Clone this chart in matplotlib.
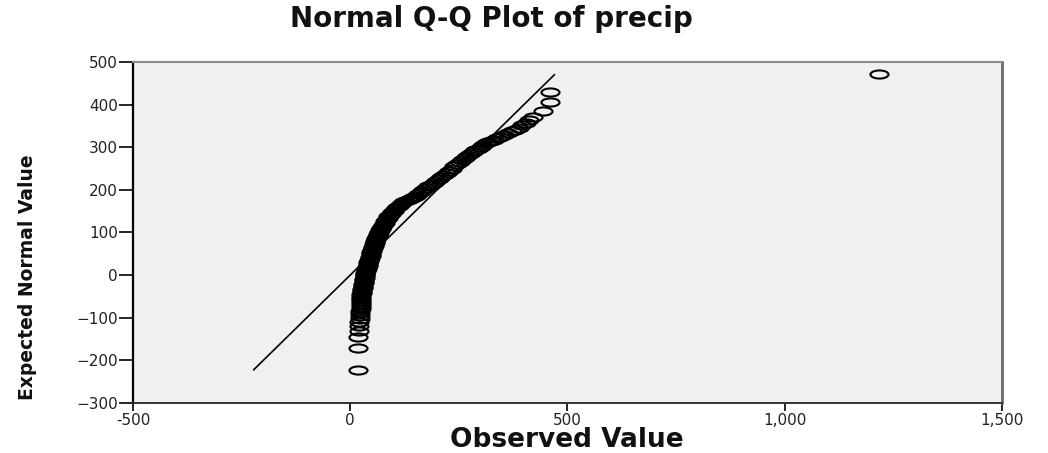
import matplotlib
matplotlib.use('Agg')
import matplotlib.pyplot as plt
from matplotlib import font_manager
from matplotlib.path import Path
from matplotlib.transforms import Affine2D

# Observed precip vs expected normal value
observed = [18, 18, 19, 20, 21, 21, 22, 22, 23, 23, 24, 24, 24, 25, 25, 25, 26, 26, 26, 27,
            27, 28, 28, 29, 29, 30, 30, 31, 31, 32, 32, 33, 33, 34, 35, 35, 36, 37, 38, 39,
            40, 40, 41, 42, 43, 44, 45, 46, 47, 48, 48, 49, 50, 51, 52, 53, 54, 55, 56, 57,
            58, 59, 60, 62, 63, 64, 66, 67, 69, 70, 72, 74, 75, 77, 79, 80, 82, 84, 86, 88,
            91, 94, 97, 100, 104, 108, 112, 117, 122, 127, 132, 137, 142, 147, 152, 157, 162, 168, 174, 180,
            186, 192, 198, 204, 210, 216, 222, 228, 234, 240, 246, 252, 258, 264, 270, 276, 282, 288, 294, 300,
            306, 312, 318, 324, 330, 338, 346, 355, 364, 372, 380, 388, 396, 404, 412, 420, 443, 459, 459, 1217]
expected = [-222, -170, -146, -131, -120, -111, -103, -96, -90, -84, -79, -74, -69, -65, -61, -57, -53, -49, -45, -42,
            -39, -36, -33, -30, -27, -24, -21, -18, -15, -12, -9, -6, -3, 0, 3, 6, 9, 12, 15, 18,
            21, 24, 27, 30, 33, 36, 39, 42, 45, 48, 51, 54, 57, 60, 63, 66, 69, 72, 75, 78,
            81, 84, 87, 90, 93, 96, 99, 102, 105, 108, 111, 114, 117, 120, 123, 126, 129, 132, 135, 138,
            141, 144, 147, 150, 155, 159, 163, 167, 171, 174, 177, 179, 181, 183, 186, 190, 194, 199, 204, 208,
            212, 216, 220, 225, 230, 235, 240, 245, 250, 255, 260, 265, 270, 275, 280, 285, 289, 293, 297, 301,
            305, 309, 312, 315, 318, 321, 325, 329, 333, 337, 341, 346, 351, 357, 363, 370, 386, 407, 430, 471]

# reference line y = x
ref_line = [-222, 470]

x_ticks = [-500, 0, 500, 1000, 1500]
x_tick_labels = ['-500', '0', '500', '1,000', '1,500']
y_ticks = [-300, -200, -100, 0, 100, 200, 300, 400, 500]
y_tick_labels = ['\u2212300', '\u2212200', '\u2212100', '0', '100', '200', '300', '400', '500']


def narrow_font():
    # the y label is set in a condensed bold face; use one if it is installed
    for fam in ['Liberation Sans Narrow', 'DejaVu Sans Condensed']:
        try:
            font_manager.findfont(fam, fallback_to_default=False)
            return fam, 17
        except ValueError:
            pass
    return 'DejaVu Sans', 13.5


fig = plt.figure(figsize=(10.48, 4.53), dpi=100)
ax = fig.add_axes([0.1269, 0.1104, 0.829, 0.7528])
ax.set_facecolor('#f0f0f0')

# SPSS circles look stretched sideways in this picture
ellipse = Affine2D().scale(1.0, 0.45).transform_path(Path.unit_circle())

ax.plot(ref_line, ref_line, color='black', lw=1.2, zorder=2)
ax.plot(observed, expected, linestyle='none', marker=ellipse, markersize=13,
        markerfacecolor='none', markeredgecolor='#000000', markeredgewidth=1.5, zorder=3)

ax.set_xlim(-500, 1500)
ax.set_ylim(-300, 500)
ax.set_xticks(x_ticks)
ax.set_xticklabels(x_tick_labels)
ax.set_yticks(y_ticks)
ax.set_yticklabels(y_tick_labels)
ax.tick_params(axis='y', direction='out', length=10, width=1.2, pad=1,
               labelsize=11, labelcolor='#222222')
ax.tick_params(axis='x', direction='out', length=6, width=1.2, pad=1,
               labelsize=11, labelcolor='#222222')

ax.spines['left'].set_color('black')
ax.spines['left'].set_linewidth(1.6)
ax.spines['bottom'].set_color('#333333')
ax.spines['bottom'].set_linewidth(1.4)
ax.spines['top'].set_color('#8a8a8a')
ax.spines['top'].set_linewidth(1.5)
ax.spines['right'].set_color('#6a6a6a')
ax.spines['right'].set_linewidth(2.0)

fig.text(0.469, 0.958, 'Normal Q-Q Plot of precip', ha='center', va='center',
         fontsize=20, fontweight='bold', color='#111111')
fig.text(0.541, 0.029, 'Observed Value', ha='center', va='center',
         fontsize=19, fontweight='bold', color='#111111')
fam, size = narrow_font()
fig.text(0.026, 0.388, 'Expected Normal Value', ha='center', va='center', rotation=90,
         fontsize=size, fontweight='bold', color='#111111', family=fam)

fig.savefig('out.png', dpi=100)
